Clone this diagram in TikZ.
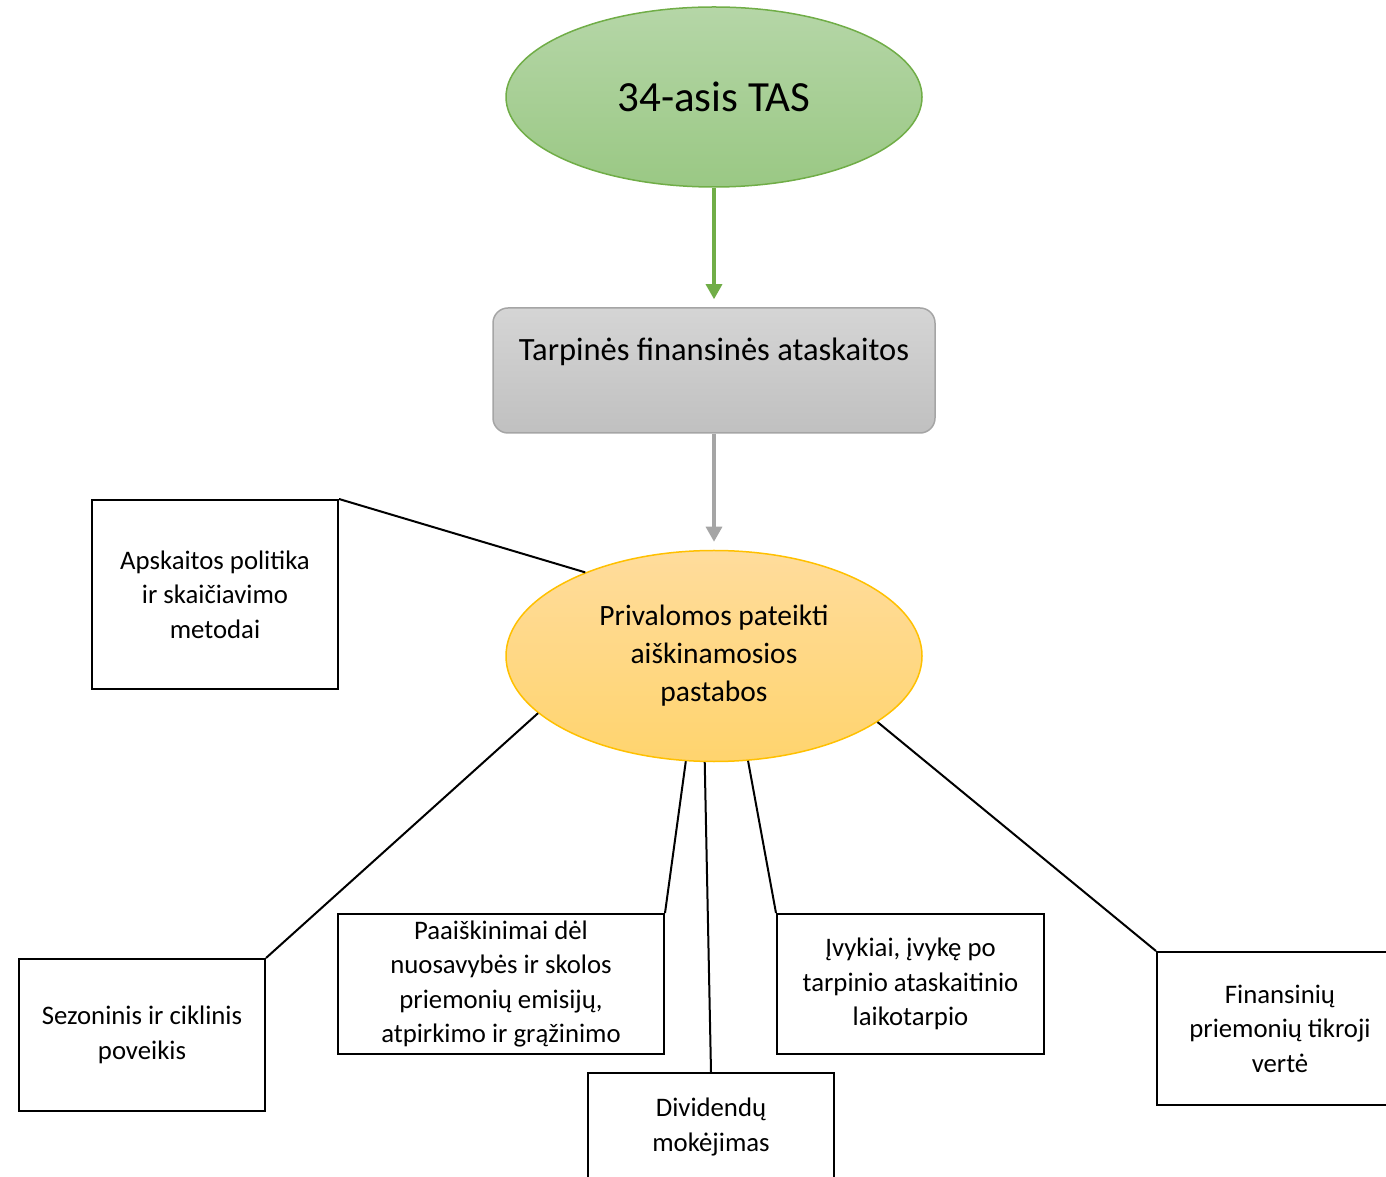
\documentclass[tikz,border=0pt]{standalone}
\usepackage{fontspec}
\setmainfont{Carlito}
\usetikzlibrary{arrows.meta,shapes.geometric}
\definecolor{leafline}{HTML}{70AD47}
\definecolor{leaftop}{HTML}{B5D6A7}
\definecolor{leafbot}{HTML}{9AC884}
\definecolor{stoneline}{HTML}{A5A5A5}
\definecolor{stonetop}{HTML}{D5D5D5}
\definecolor{stonebot}{HTML}{C0C0C0}
\definecolor{sunline}{HTML}{FFC000}
\definecolor{suntop}{HTML}{FFDC9C}
\definecolor{sunbot}{HTML}{FFD46E}

\begin{document}
\begin{tikzpicture}[x=0.4pt,y=-0.4pt,
  topic/.style={ellipse,draw=leafline,line width=.6pt,top color=leaftop,bottom color=leafbot,
    minimum width=166.4pt,minimum height=72pt,font=\fontsize{17.2}{21}\selectfont},
  group/.style={rectangle,rounded corners=6pt,draw=stoneline,line width=.6pt,top color=stonetop,bottom color=stonebot,
    minimum width=176.8pt,inner xsep=0pt,inner ysep=0pt,text height=21.2pt,text depth=28.8pt,font=\fontsize{13}{16}\selectfont},
  notes/.style={ellipse,draw=sunline,line width=.6pt,top color=suntop,bottom color=sunbot,
    minimum width=166.4pt,minimum height=84.4pt,align=center,font=\fontsize{11.8}{15.2}\selectfont},
  item/.style={rectangle,draw=black,line width=.8pt,fill=white,inner sep=1pt,align=center,
    minimum width=98.4pt,font=\fontsize{10.7}{13.8}\selectfont},
  flow/.style={-{Triangle[length=6pt,width=6.4pt]},line width=1.25pt,shorten >=3.2pt},
  link/.style={draw=black,line width=.8pt}
]
\useasboundingbox (0,0) rectangle (1386,1177);
\clip (0,0) rectangle (1386,1177);

\node[topic] (ias) at (714,97) {34-asis TAS};
\node[group] (interim) at (714,370.5) {Tarpinės finansinės ataskaitos};
\node[notes] (expl) at (714,656) {Privalomos pateikti\\aiškinamosios\\pastabos};

\node[item,minimum height=75.6pt] (policy) at (215,594.5) {Apskaitos politika\\ir skaičiavimo\\metodai};
\node[item,minimum height=60.8pt] (season) at (142,1035) {Sezoninis ir ciklinis\\poveikis};
\node[item,minimum width=130.4pt,minimum height=56pt] (equity) at (501,984) {Paaiškinimai dėl\\nuosavybės ir skolos\\priemonių emisijų,\\atpirkimo ir grąžinimo};
\node[item,minimum height=43.2pt] (divid) at (711,1127) {Dividendų\\mokėjimas};
\node[item,minimum width=106.8pt,minimum height=56pt] (events) at (910.5,984) {Įvykiai, įvykę po\\tarpinio ataskaitinio\\laikotarpio};
\node[item,minimum height=61.2pt] (fair) at (1280,1028.5) {Finansinių\\priemonių tikroji\\vertė};

\draw[flow,draw=leafline,fill=leafline] (ias.south) -- (interim.north);
\draw[flow,draw=stoneline,fill=stoneline] (interim.south) -- (expl.north);

\draw[link] (policy.north east) -- (expl.147);
\draw[link] (season.north east) -- (expl.198.5);
\draw[link] (equity.north east) -- (expl.255.7);
\draw[link] (divid.north) -- (expl.265.8);
\draw[link] (events.north west) -- (expl.288.8);
\draw[link] (fair.north west) -- (expl.338.9);
\end{tikzpicture}
\end{document}
